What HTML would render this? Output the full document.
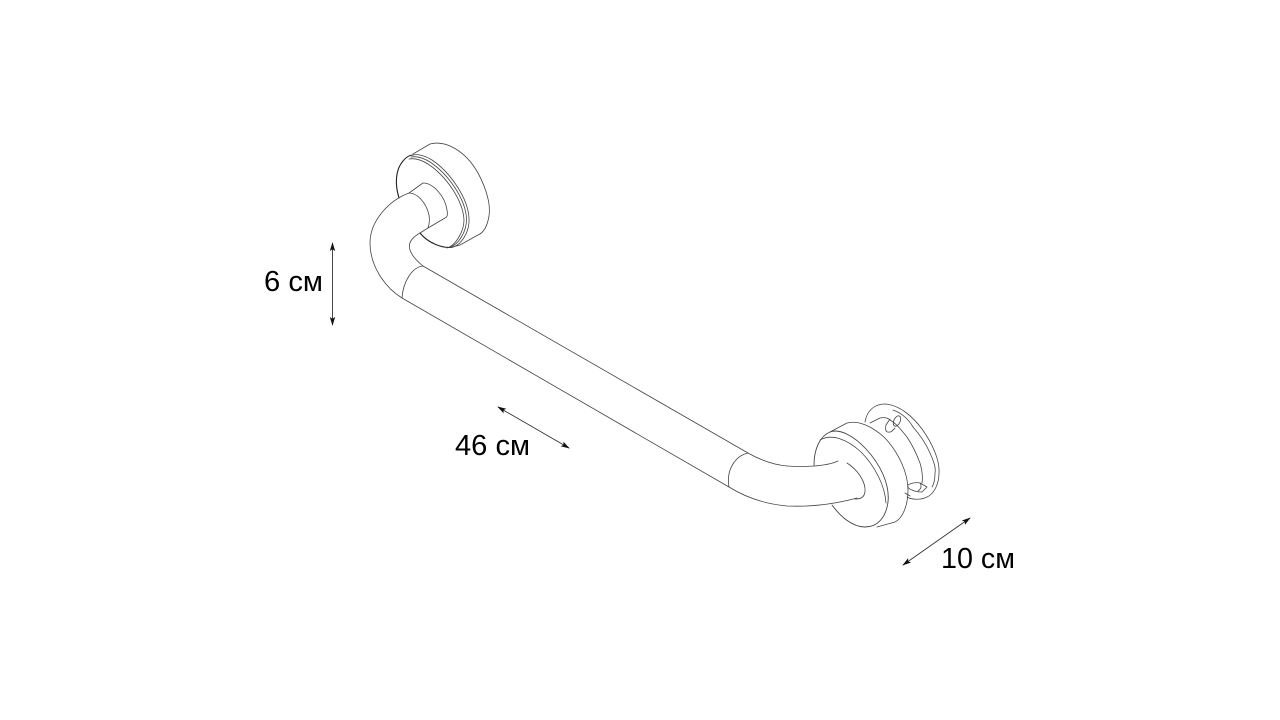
<!DOCTYPE html>
<html><head><meta charset="utf-8"><style>
html,body{margin:0;padding:0;background:#fff}
svg{display:block}
text{font-family:"Liberation Sans",sans-serif;font-size:29px;fill:#000}
</style></head><body>
<svg width="1280" height="720" viewBox="0 0 1280 720" xmlns="http://www.w3.org/2000/svg">
<defs>
<marker id="a" viewBox="0 0 10 6" refX="9" refY="3" markerWidth="9" markerHeight="6" markerUnits="userSpaceOnUse" orient="auto-start-reverse"><path d="M0 0L10 3L0 6L2 3Z" fill="#111"/></marker>
</defs>
<g fill="none" stroke="#444" stroke-width="0.8" stroke-linecap="round" stroke-linejoin="round">
<!-- left flange -->
<path d="M399 198C395 185 395 170 403 161C407 156 410 155 413 155" stroke-width="1.1" stroke="#222"/>
<path d="M420 233C428 243 443 249 453 247" stroke-width="1.1" stroke="#222"/>
<path d="M453 247C461 245 470 232 469 218C468 198 450 172 432 160C424 155 417 154 413 155"/>
<path d="M450 247C458 245 467 232 466.500 218C465 198 448 174 430 162C422 157 416 156 411 157"/>
<path d="M447 248C455 246 464 232 464 220C463 200 446 176 428 164C420 159 414 158 409 159"/>
<path d="M413 154L430 144C445 140 465 150 478 173C486 188 491 204 489 216C487 228 483 233 478 235L460 245L453 247"/>
<!-- left collar & bend -->
<path d="M423 183L409 193C390 200 370 220 370 243C370 265 384 287 402 298"/>
<path d="M423 183C433 183 445 196 447 210C448 216 447 217 445 218L428 228"/>
<path d="M409 193C417 193 426 202 429 215C430 221 429 225 428 228"/>
<path d="M428 228L420 233C411 238 408 244 410 250C412 256 418 262 423 266"/>
<path d="M423 266C412 267 403 282 402 298"/>
<!-- bar -->
<path d="M423 266L748 453"/>
<path d="M402 298L729 487"/>
<!-- right bend -->
<path d="M748 453C762 461 776 465 787 466C800 467 825 467 838 461"/>
<path d="M748 453C735 456 726 470 729 487"/>
<path d="M729 487C745 497 765 504 787 506C810 507 835 504 857 498"/>
<path d="M847 463C858 470 866 482 865 492C864 498 860 499 855 499"/>
<!-- right flange -->
<path d="M814 465C814 449 820 436 830 432C840 428 855 437 866 449C880 464 890 484 888 502C886 518 877 527 865 527C852 527 840 516 832 505" stroke-width="0.9"/>
<path d="M820 440C832 433 848 440 861 452C875 466 885 486 886 503"/>
<path d="M830 432L847 423C858 420 872 426 885 438C898 452 908 472 908 490C908 505 903 518 895 522L877 527"/>
<!-- wall plate -->
<path d="M865 422C867 410 875 404 885 404C900 405 913 417 922 429C932 443 940 460 939 473C939 484 934 494 927 497C921 500 912 500 907 497"/>
<path d="M893 410C902 413 909 420 913 427C921 436 927 446 930 453C934 462 936 468 935 473C935 480 934 484 932 487"/>
<path d="M870 423L880 418C885 417 888 418 890 420C897 424 902 431 907 437C913 446 917 455 920 463C922 470 923 477 922 483"/>
<path d="M905 493L910 496"/>
<!-- pins -->
<path d="M890 419L886 425C885 430 886 432 888 432C891 433 893 430 895 428"/>
<ellipse cx="897" cy="421" rx="3.200" ry="5.500" transform="rotate(25 897 421)"/>
<path d="M908 485C911 483 917 482 920 483L927 487L922 492C918 492 914 491 912 490C909 489 907 487 908 485Z"/>
<path d="M920 483C922 486 921 489 918 491"/>
</g>
<!-- dimensions -->
<g stroke="#333" stroke-width="0.9" fill="none">
<path d="M332.500 243V325" marker-start="url(#a)" marker-end="url(#a)"/>
<path d="M498 407L569 448" marker-start="url(#a)" marker-end="url(#a)"/>
<path d="M903 565L970 518" marker-start="url(#a)" marker-end="url(#a)"/>
</g>
<text x="264" y="291" textLength="59" lengthAdjust="spacingAndGlyphs">6 см</text>
<text x="455" y="455" textLength="75" lengthAdjust="spacingAndGlyphs">46 см</text>
<text x="941" y="568" textLength="74" lengthAdjust="spacingAndGlyphs">10 см</text>
</svg>
</body></html>
